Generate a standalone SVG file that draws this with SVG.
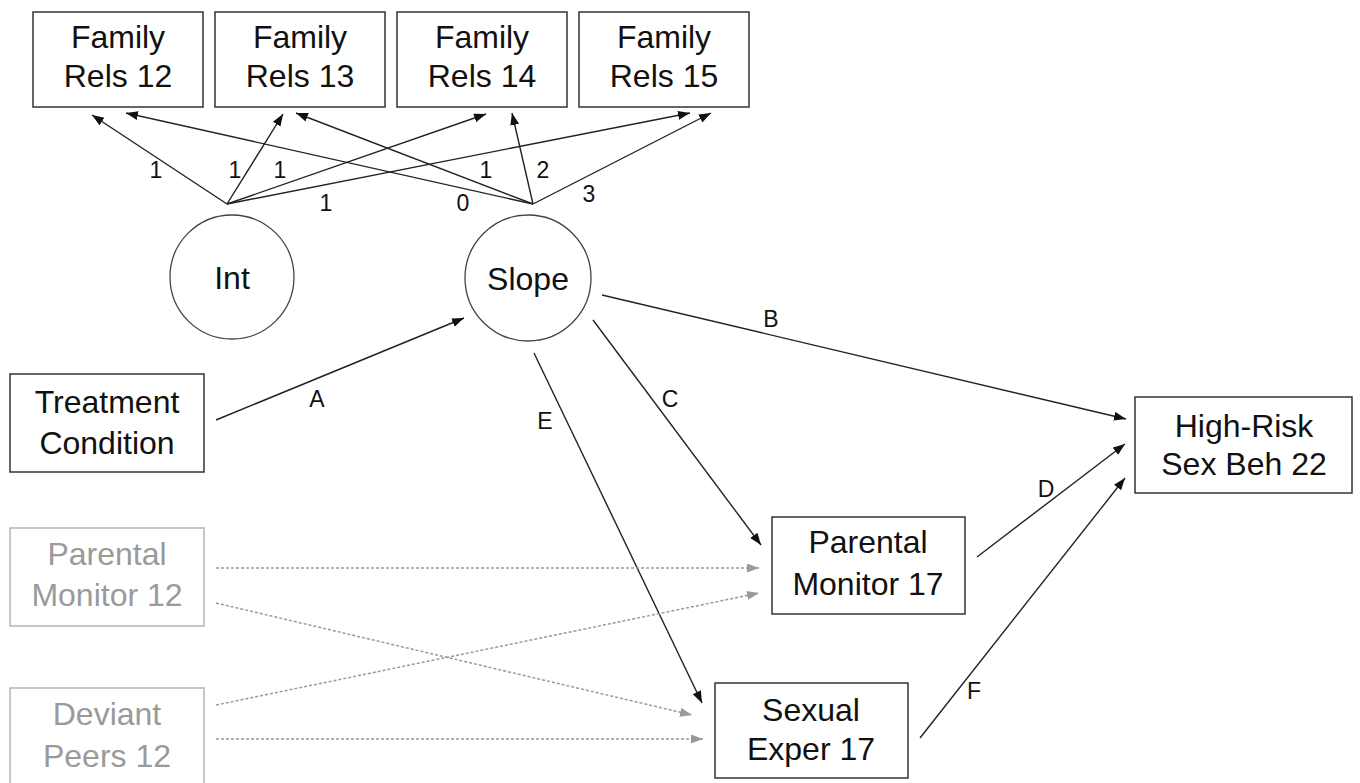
<svg xmlns="http://www.w3.org/2000/svg" width="1360" height="783" viewBox="0 0 1360 783">
<style>
  .box{fill:#fff;stroke:#333;stroke-width:1.5}
  .gbox{fill:#fff;stroke:#b4b4b4;stroke-width:1.5}
  .t{font-family:"Liberation Sans",Arial,sans-serif;font-size:32px;fill:#111;text-anchor:middle}
  .gt{font-family:"Liberation Sans",Arial,sans-serif;font-size:32px;fill:#9a9a9a;text-anchor:middle}
  .lbl{font-family:"Liberation Sans",Arial,sans-serif;font-size:23px;fill:#111;text-anchor:middle}
  .ln{stroke:#222;stroke-width:1.4;fill:none;marker-end:url(#ah)}
  .dl{stroke:#9a9a9a;stroke-width:1.5;fill:none;stroke-dasharray:3 2;marker-end:url(#gah)}
</style>
<defs>
  <marker id="ah" markerUnits="userSpaceOnUse" markerWidth="13" markerHeight="10" refX="12" refY="4.5" orient="auto">
    <path d="M0,0 L12,4.5 L0,9 z" fill="#111"/>
  </marker>
  <marker id="gah" markerUnits="userSpaceOnUse" markerWidth="13" markerHeight="10" refX="12" refY="4.5" orient="auto">
    <path d="M0,0 L12,4.5 L0,9 z" fill="#9a9a9a"/>
  </marker>
</defs>
<rect width="1360" height="783" fill="#fff"/>

<g id="connectors">
  <line class="ln" x1="227" y1="204" x2="92" y2="115"/>
  <line class="ln" x1="227" y1="204" x2="283" y2="114"/>
  <line class="ln" x1="227" y1="204" x2="486" y2="114"/>
  <line class="ln" x1="227" y1="204" x2="690" y2="113"/>
  <line class="ln" x1="533" y1="204" x2="126" y2="113"/>
  <line class="ln" x1="533" y1="204" x2="296" y2="113"/>
  <line class="ln" x1="533" y1="204" x2="512" y2="113"/>
  <line class="ln" x1="533" y1="204" x2="711" y2="113"/>
  <line class="ln" x1="216" y1="420" x2="464" y2="318"/>
  <line class="ln" x1="602" y1="295" x2="1126" y2="419"/>
  <line class="ln" x1="593" y1="320" x2="761" y2="545"/>
  <line class="ln" x1="534" y1="353" x2="702" y2="703"/>
  <line class="ln" x1="977" y1="557" x2="1125" y2="444"/>
  <line class="ln" x1="920" y1="738" x2="1125" y2="478"/>
  <line class="dl" x1="216" y1="568" x2="759" y2="568"/>
  <line class="dl" x1="216" y1="603" x2="692" y2="715"/>
  <line class="dl" x1="216" y1="705" x2="759" y2="593"/>
  <line class="dl" x1="216" y1="739" x2="703" y2="739"/>
  <g id="labels">
    <text class="lbl" x="156" y="178">1</text>
    <text class="lbl" x="235" y="178">1</text>
    <text class="lbl" x="280" y="178">1</text>
    <text class="lbl" x="326" y="211">1</text>
    <text class="lbl" x="463" y="211">0</text>
    <text class="lbl" x="486" y="178">1</text>
    <text class="lbl" x="543" y="178">2</text>
    <text class="lbl" x="589" y="202">3</text>
    <text class="lbl" x="317" y="407">A</text>
    <text class="lbl" x="771" y="327">B</text>
    <text class="lbl" x="670" y="407">C</text>
    <text class="lbl" x="1046" y="497">D</text>
    <text class="lbl" x="545" y="429">E</text>
    <text class="lbl" x="974" y="699">F</text>
  </g>
</g>

<g id="fr12"><rect class="box" x="33" y="12" width="170" height="95"/><text class="t" x="118" y="48">Family</text><text class="t" x="118" y="87">Rels 12</text></g>
<g id="fr13"><rect class="box" x="215" y="12" width="170" height="95"/><text class="t" x="300" y="48">Family</text><text class="t" x="300" y="87">Rels 13</text></g>
<g id="fr14"><rect class="box" x="397" y="12" width="170" height="95"/><text class="t" x="482" y="48">Family</text><text class="t" x="482" y="87">Rels 14</text></g>
<g id="fr15"><rect class="box" x="579" y="12" width="170" height="95"/><text class="t" x="664" y="48">Family</text><text class="t" x="664" y="87">Rels 15</text></g>

<g id="int"><circle cx="232" cy="277" r="62" fill="#fff" stroke="#444" stroke-width="1.3"/><text class="t" x="232" y="289">Int</text></g>
<g id="slope"><circle cx="528" cy="278" r="63" fill="#fff" stroke="#444" stroke-width="1.3"/><text class="t" x="528" y="290">Slope</text></g>

<g id="treatment"><rect class="box" x="10" y="374" width="194" height="98"/><text class="t" x="107" y="413">Treatment</text><text class="t" x="107" y="454">Condition</text></g>
<g id="highrisk"><rect class="box" x="1135" y="397" width="217" height="96"/><text class="t" x="1244" y="437">High-Risk</text><text class="t" x="1244" y="475">Sex Beh 22</text></g>
<g id="pm17"><rect class="box" x="772" y="517" width="193" height="97"/><text class="t" x="868" y="553">Parental</text><text class="t" x="868" y="595">Monitor 17</text></g>
<g id="se17"><rect class="box" x="715" y="683" width="193" height="95"/><text class="t" x="811" y="721">Sexual</text><text class="t" x="811" y="760">Exper 17</text></g>

<g id="pm12"><rect class="gbox" x="10" y="528" width="194" height="98"/><text class="gt" x="107" y="565">Parental</text><text class="gt" x="107" y="606">Monitor 12</text></g>
<g id="dp12"><rect class="gbox" x="10" y="688" width="194" height="110"/><text class="gt" x="107" y="725">Deviant</text><text class="gt" x="107" y="767">Peers 12</text></g>
</svg>
